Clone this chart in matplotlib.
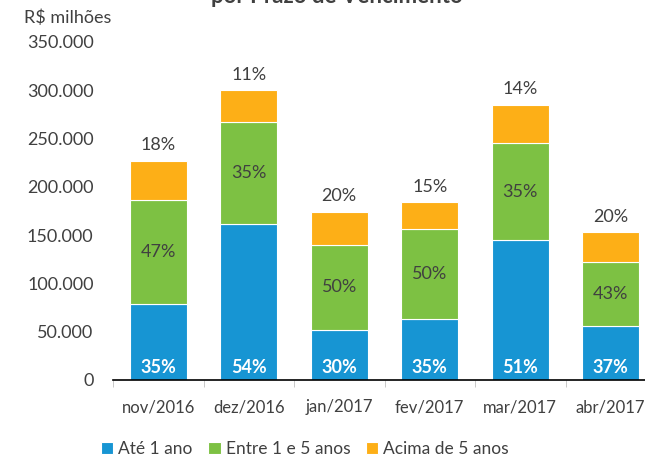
import matplotlib
matplotlib.use('Agg')
import matplotlib.pyplot as plt
import numpy as np

# dados (R$ milhões)
months = ['nov/2016', 'dez/2016', 'jan/2017', 'fev/2017', 'mar/2017', 'abr/2017']
ate_1 = [79000, 162000, 52000, 63500, 144500, 56000]
entre_1_5 = [107000, 105000, 88000, 92500, 100500, 66000]
acima_5 = [41000, 33000, 34000, 28000, 40000, 31000]
pct_ate_1 = ['35%', '54%', '30%', '35%', '51%', '37%']
pct_entre = ['47%', '35%', '50%', '50%', '35%', '43%']
pct_acima = ['18%', '11%', '20%', '15%', '14%', '20%']
series_names = ['Até 1 ano', 'Entre 1 e 5 anos', 'Acima de 5 anos']
yticks = [0, 50000, 100000, 150000, 200000, 250000, 300000, 350000]

plt.rcParams['font.family'] = ['Lato', 'DejaVu Sans']
txt = '#404040'
c_blue = '#1795d3'
c_green = '#7dc143'
c_orange = '#fdaf17'

fig = plt.figure(figsize=(6.45, 4.57), dpi=100)
ax = fig.add_axes([113/645, 77/457, 543/645, 338/457])

x = np.arange(len(months))
w = 0.63
b1 = np.array(ate_1)
b2 = b1 + np.array(entre_1_5)
tot = b2 + np.array(acima_5)

ax.bar(x, ate_1, w, color=c_blue, edgecolor='white', linewidth=0.8, label=series_names[0])
ax.bar(x, entre_1_5, w, bottom=b1, color=c_green, edgecolor='white', linewidth=0.8, label=series_names[1])
ax.bar(x, acima_5, w, bottom=b2, color=c_orange, edgecolor='white', linewidth=0.8, label=series_names[2])

for i in range(len(months)):
    ax.text(x[i], 4000, pct_ate_1[i], ha='center', va='bottom', color='white',
            fontweight='bold', fontsize=13)
    ax.text(x[i], (b1[i] + b2[i]) / 2, pct_entre[i], ha='center', va='center',
            color=txt, fontsize=13)
    ax.text(x[i], tot[i] + 8000, pct_acima[i], ha='center', va='bottom',
            color=txt, fontsize=13)

ax.set_xlim(-0.5, len(months) - 0.5)
ax.set_ylim(0, 350000)
ax.set_yticks(yticks)
ax.set_yticklabels(['0'] + ['{:,}'.format(v).replace(',', '.') for v in yticks[1:]])
ax.set_xticks(x)
ax.set_xticklabels(months)
ax.set_xticks(np.arange(len(months) + 1) - 0.5, minor=True)
ax.tick_params(axis='x', which='major', length=0, pad=14, labelsize=12, labelcolor=txt)
ax.tick_params(axis='x', which='minor', length=5, color='#bfbfbf')
ax.tick_params(axis='y', length=0, pad=14, labelsize=13, labelcolor=txt)
for s in ['top', 'right', 'left']:
    ax.spines[s].set_visible(False)
ax.spines['bottom'].set_color('black')
ax.spines['bottom'].set_linewidth(1.2)

fig.text(24/645, 1 - 18/457, 'R$ milhões', ha='left', va='center', color=txt, fontsize=13)
fig.text(337/645, 1 - 3/457, 'por Prazo de Vencimento', ha='center', va='baseline',
         color=txt, fontsize=16, fontweight='bold')

fig.legend(loc='center', bbox_to_anchor=(305/645, 1 - 449/457), ncol=3, frameon=False,
           fontsize=12.5, handlelength=0.7, handleheight=0.7, handletextpad=0.3,
           columnspacing=0.9, labelcolor=txt)

fig.savefig('out.png', dpi=100)
